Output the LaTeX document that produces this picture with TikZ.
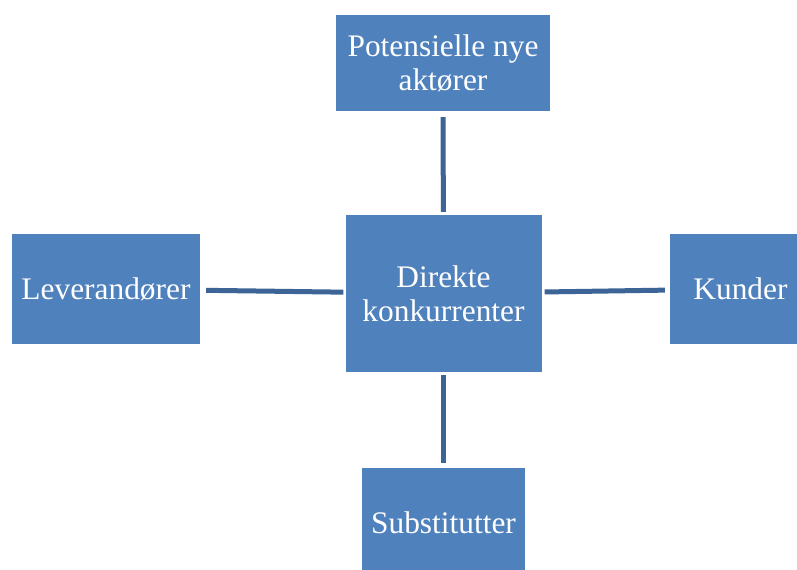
\documentclass[tikz,border=0pt]{standalone}
\usepackage{fontspec}
\setmainfont{Liberation Serif}
\definecolor{boxblue}{HTML}{4F81BD}
\definecolor{linkblue}{HTML}{3C6496}
\tikzset{
  forcebox/.style={fill=boxblue, draw=none, text=white, align=center,
    inner sep=0pt, font=\fontsize{31.5}{34}\selectfont},
  link/.style={draw=linkblue, line width=5bp}
}
\begin{document}
\begin{tikzpicture}[x=1bp, y=-1bp]
  \useasboundingbox (0,0) rectangle (797,570);
  \clip (0,0) rectangle (797,570);
  \fill[white] (0,0) rectangle (797,570);

  % the five forces
  \node[forcebox, minimum width=214bp, minimum height=96bp] (nye) at (443,63)
    {Potensielle nye\\aktører};
  \node[forcebox, minimum width=196bp, minimum height=157bp] (direkte) at (443.5,293.5)
    {Direkte\\konkurrenter};
  \node[forcebox, minimum width=188bp, minimum height=110bp] (lev) at (106,289)
    {Leverandører};
  \node[forcebox, minimum width=141bp, minimum height=110bp] (kunder) at (740.5,289)
    {Kunder};
  \node[forcebox, minimum width=163bp, minimum height=110bp] (sub) at (443.5,523)
    {Substitutter};

  % connectors between the centre and each force
  \draw[link, shorten <=6bp, shorten >=3bp] (nye) -- (direkte);
  \draw[link, shorten <=3bp, shorten >=5bp] (direkte) -- (sub);
  \draw[link, shorten <=6bp, shorten >=2bp] (lev) -- (direkte);
  \draw[link, shorten <=3bp, shorten >=5bp] (direkte) -- (kunder);
\end{tikzpicture}
\end{document}
